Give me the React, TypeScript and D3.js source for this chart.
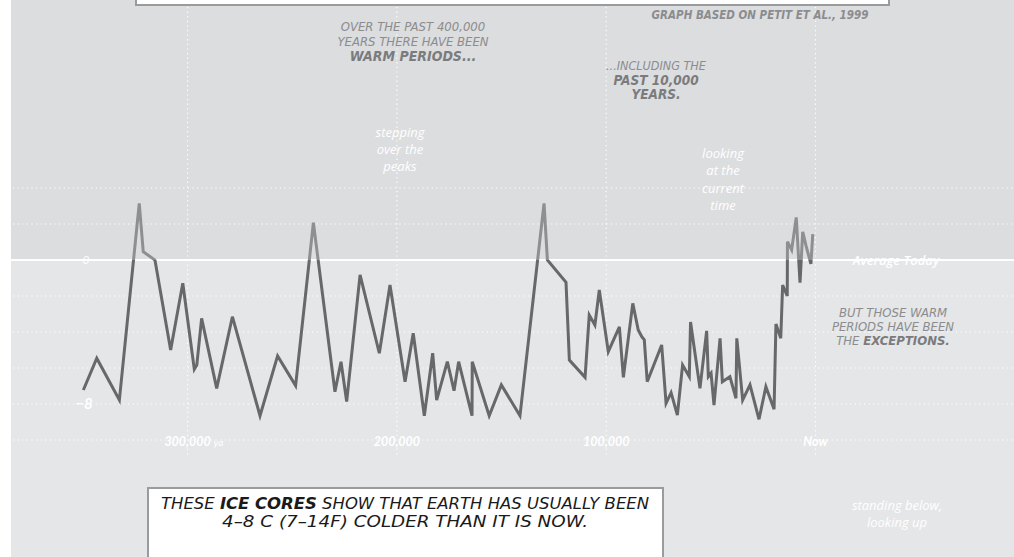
import React from 'react';
import * as d3 from 'd3';

// thousands of years before present
const kya = [
  349.8, 343.4, 332.6, 323.1, 321.2, 315.6, 308.1, 302.3, 296.8, 295.6, 293.3, 286.1, 278.6,
  265.4, 257.0, 248.4, 239.9, 229.6, 226.7, 224.0, 217.6, 208.4, 203.3, 196.1, 192.2, 186.9,
  182.9, 181.0, 175.9, 172.7, 170.5, 164.1, 164.0, 155.9, 150.1, 141.2, 129.7, 128.1, 119.2,
  117.6, 110.1, 108.1, 105.4, 103.3, 99.0, 93.7, 91.8, 87.3, 84.7, 83.0, 81.8, 80.4, 73.5,
  71.4, 69.0, 66.0, 63.5, 60.3, 59.7, 55.2, 52.0, 51.2, 49.9, 48.5, 45.6, 44.5, 40.9, 38.0,
  37.6, 34.8, 31.3, 27.0, 23.7, 19.8, 18.9, 16.6, 15.7, 13.5, 13.4, 11.4, 9.2, 7.4, 6.1, 4.5,
  2.2, 1.3,
];

// temperature difference from today's average, deg C
const temps = [
  -7.22, -5.46, -7.78, 3.15, 0.46, 0, -5.0, -1.29, -6.07, -5.83, -3.24, -7.13, -3.15, -8.65,
  -5.33, -6.98, 2.07, -7.32, -5.65, -7.87, -0.83, -5.18, -1.39, -6.76, -4.07, -8.65, -5.18,
  -7.78, -5.65, -7.26, -5.65, -8.65, -5.65, -8.65, -6.94, -8.65, 3.15, 0, -1.24, -5.56, -6.52,
  -3.06, -3.61, -1.67, -5.09, -3.71, -6.52, -2.41, -3.89, -4.26, -4.44, -6.76, -4.72, -7.96,
  -7.37, -8.61, -5.83, -6.48, -3.44, -7.13, -3.94, -6.48, -6.29, -8.06, -4.35, -6.76, -6.48,
  -7.68, -4.35, -7.78, -6.94, -8.85, -7.04, -8.29, -3.56, -4.35, -1.39, -2.0, 1.02, 0.56, 2.37,
  -1.26, 1.57, 0.78, -0.22, 1.44,
];

const xTicks = [300, 200, 100, 0];
const xTickLabels = ['300,000', '200,000', '100,000', 'Now'];
const yGrid = [4, 2, -2, -4, -6, -8, -10];

const W = 1014;
const H = 557;
const LEFT = 11;

const comic = '"Liberation Sans Narrow", "DejaVu Sans Condensed", sans-serif';
const hand = '"Open Sans", "DejaVu Sans", sans-serif';
const axisFont = 'Lato, "Open Sans", sans-serif';

const App: React.FC = () => {
  const x = d3.scaleLinear().domain([300, 0]).range([187.6, 815.5]);
  const y = d3.scaleLinear().domain([0, -8]).range([260, 404]);

  const pts = kya.map((k, i) => [k, temps[i]] as [number, number]);
  const line = d3
    .line<[number, number]>()
    .x((d) => x(d[0]))
    .y((d) => y(d[1]));
  const path = line(pts) || '';
  const zeroY = y(0);

  const annoFill = '#8b8c8e';
  const boldFill = '#7a7b7d';

  return (
    <svg
      width={W}
      height={H}
      style={{ position: 'absolute', left: 0, top: 0, background: '#fff' }}
    >
      <defs>
        <clipPath id="above">
          <rect x={0} y={0} width={W} height={zeroY} />
        </clipPath>
        <clipPath id="below">
          <rect x={0} y={zeroY} width={W} height={H - zeroY} />
        </clipPath>
      </defs>

      {/* background bands */}
      <rect x={LEFT} y={0} width={W - LEFT} height={zeroY} fill="#dcdddf" />
      <rect x={LEFT} y={zeroY} width={W - LEFT} height={H - zeroY} fill="#e5e6e8" />

      {/* grid */}
      {yGrid.map((t) => (
        <line
          key={'h' + t}
          x1={LEFT + 2}
          x2={W}
          y1={y(t)}
          y2={y(t)}
          stroke="#fff"
          strokeWidth={1.2}
          strokeDasharray="1.2,3.4"
        />
      ))}
      {xTicks.map((t) => (
        <line
          key={'v' + t}
          x1={x(t)}
          x2={x(t)}
          y1={7}
          y2={456}
          stroke="#fff"
          strokeWidth={1.2}
          strokeDasharray="1.2,3.4"
        />
      ))}
      <line x1={LEFT} x2={W} y1={zeroY} y2={zeroY} stroke="#fff" strokeWidth={2} />

      {/* y labels */}
      <text
        x={86}
        y={zeroY}
        dy="0.35em"
        textAnchor="middle"
        fill="#fff"
        fontFamily={axisFont}
        fontStyle="italic"
        fontSize={12}
      >
        0
      </text>
      <text
        x={84}
        y={y(-8)}
        dy="0.35em"
        textAnchor="middle"
        fill="#fff"
        fontFamily={axisFont}
        fontStyle="italic"
        fontWeight={700}
        fontSize={15}
      >
        −8
      </text>

      {/* x labels */}
      {xTicks.map((t, i) => (
        <text
          key={'xl' + t}
          x={x(t)}
          y={442}
          dy="0.35em"
          textAnchor="middle"
          fill="#fff"
          fontFamily={axisFont}
          fontStyle="italic"
          fontWeight={700}
          fontSize={12.5}
        >
          {xTickLabels[i]}
        </text>
      ))}
      <text
        x={x(300) + 26}
        y={442}
        dy="0.35em"
        fill="#fff"
        fontFamily={axisFont}
        fontStyle="italic"
        fontSize={10}
      >
        ya
      </text>

      {/* data */}
      <path
        d={path}
        fill="none"
        stroke="#8e8f91"
        strokeWidth={3}
        clipPath="url(#above)"
      />
      <path
        d={path}
        fill="none"
        stroke="#67686a"
        strokeWidth={3}
        clipPath="url(#below)"
      />

      <text
        x={896}
        y={zeroY}
        dy="0.35em"
        textAnchor="middle"
        fill="#fff"
        fontFamily={hand}
        fontStyle="italic"
        fontWeight={600}
        fontSize={13}
      >
        Average Today
      </text>

      {/* top box */}
      <rect x={136} y={-30} width={753} height={35} fill="#fff" stroke="#9a9b9d" strokeWidth={2} />

      <text
        x={760}
        y={15}
        dy="0.35em"
        textAnchor="middle"
        fill={annoFill}
        fontFamily={comic}
        fontStyle="italic"
        fontWeight={700}
        fontSize={11.5}
      >
        GRAPH BASED ON PETIT ET AL., 1999
      </text>

      <g
        textAnchor="middle"
        fontFamily={comic}
        fontStyle="italic"
        fontSize={13}
        fill={annoFill}
      >
        <text x={413} y={26} dy="0.35em">OVER THE PAST 400,000</text>
        <text x={413} y={41} dy="0.35em">YEARS THERE HAVE BEEN</text>
        <text x={413} y={56} dy="0.35em" fontWeight={700} fontSize={14} fill={boldFill}>
          WARM PERIODS...
        </text>

        <text x={656} y={66} dy="0.35em" fontSize={12.5}>...INCLUDING THE</text>
        <text x={656} y={80} dy="0.35em" fontWeight={700} fontSize={13.5} fill={boldFill}>
          PAST 10,000
        </text>
        <text x={656} y={94} dy="0.35em" fontWeight={700} fontSize={13.5} fill={boldFill}>
          YEARS.
        </text>

        <text x={893} y={312} dy="0.35em">BUT THOSE WARM</text>
        <text x={893} y={326} dy="0.35em">PERIODS HAVE BEEN</text>
        <text x={893} y={340} dy="0.35em">
          THE{' '}
          <tspan fontWeight={700} fill={boldFill}>
            EXCEPTIONS.
          </tspan>
        </text>
      </g>

      {/* white viewpoint notes */}
      <g textAnchor="middle" fontFamily={hand} fontStyle="italic" fontSize={13} fill="#fff">
        <text x={400} y={132} dy="0.35em">stepping</text>
        <text x={400} y={149} dy="0.35em">over the</text>
        <text x={400} y={166} dy="0.35em">peaks</text>

        <text x={723} y={153} dy="0.35em">looking</text>
        <text x={723} y={170} dy="0.35em">at the</text>
        <text x={723} y={188} dy="0.35em">current</text>
        <text x={723} y={205} dy="0.35em">time</text>

        <text x={897} y={505} dy="0.35em">standing below,</text>
        <text x={897} y={522} dy="0.35em">looking up</text>
      </g>

      {/* bottom box */}
      <rect x={148} y={488} width={515} height={90} fill="#fff" stroke="#9a9b9d" strokeWidth={2} />
      <g textAnchor="middle" fontFamily={comic} fontStyle="italic" fontSize={15.5} fill="#1a1a1a">
        <text
          x={405}
          y={504}
          dy="0.35em"
          textLength={488}
          lengthAdjust="spacingAndGlyphs"
        >
          THESE{' '}
          <tspan fontWeight={700}>ICE CORES</tspan> SHOW THAT EARTH HAS USUALLY BEEN
        </text>
        <text
          x={405}
          y={522}
          dy="0.35em"
          textLength={366}
          lengthAdjust="spacingAndGlyphs"
        >
          4–8 C (7–14F) COLDER THAN IT IS NOW.
        </text>
      </g>
    </svg>
  );
};

export default App;
